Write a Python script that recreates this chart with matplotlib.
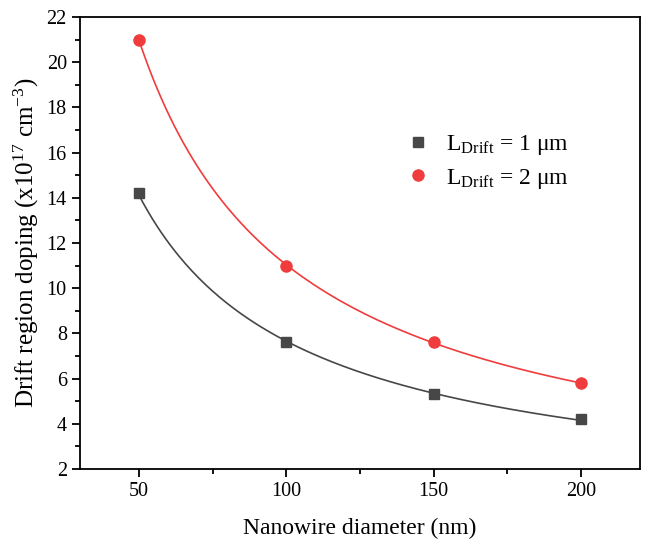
import numpy as np
import matplotlib.pyplot as plt
from matplotlib.ticker import MultipleLocator

diameter = [50, 100, 150, 200]
doping_1um = [14.2, 7.6, 5.3, 4.2]
doping_2um = [21.0, 11.0, 7.6, 5.8]

plt.rcParams['font.family'] = 'Liberation Serif'
plt.rcParams['mathtext.fontset'] = 'custom'
plt.rcParams['mathtext.rm'] = 'Liberation Serif'
plt.rcParams['mathtext.it'] = 'Liberation Serif:italic'


def power_fit(x, y):
    # allometric fit y = a * x^b, done in log space
    b, log_a = np.polyfit(np.log(x), np.log(y), 1)
    xs = np.linspace(min(x), max(x), 200)
    return xs, np.exp(log_a) * xs ** b


fig = plt.figure(figsize=(6.45, 5.42), dpi=100)
ax = fig.add_axes([0.124, 0.1347, 0.868, 0.834])

gray = '#474747'
red = '#f03c3c'

xs, ys = power_fit(diameter, doping_1um)
ax.plot(xs, ys, color=gray, lw=1.2)
xs, ys = power_fit(diameter, doping_2um)
ax.plot(xs, ys, color=red, lw=1.2)

ax.plot(diameter, doping_1um, 's', color=gray, ms=7, ls='none',
        label=r'L$_{\mathrm{Drift}}$ = 1 μm')
ax.plot(diameter, doping_2um, 'o', color=red, ms=8, ls='none',
        label=r'L$_{\mathrm{Drift}}$ = 2 μm')

ax.set_xlim(30, 220)
ax.set_ylim(2, 22)
ax.xaxis.set_major_locator(MultipleLocator(50))
ax.xaxis.set_minor_locator(MultipleLocator(25))
ax.yaxis.set_major_locator(MultipleLocator(2))
ax.yaxis.set_minor_locator(MultipleLocator(1))
ax.tick_params(which='major', direction='out', length=6, width=1.3, labelsize=14.5)
ax.tick_params(which='minor', direction='out', length=3.5, width=1.3)
for s in ax.spines.values():
    s.set_linewidth(1.3)

ax.set_xlabel('Nanowire diameter (nm)', fontsize=17, labelpad=12)
ax.set_ylabel(r'Drift region doping (x10$^{17}$ cm$^{-3}$)', fontsize=18, labelpad=4)

ax.legend(loc='upper left', bbox_to_anchor=(0.545, 0.79), frameon=False,
          fontsize=17, handlelength=1.0, handletextpad=0.7, labelspacing=0.4)

fig.savefig('out.png', dpi=100)
